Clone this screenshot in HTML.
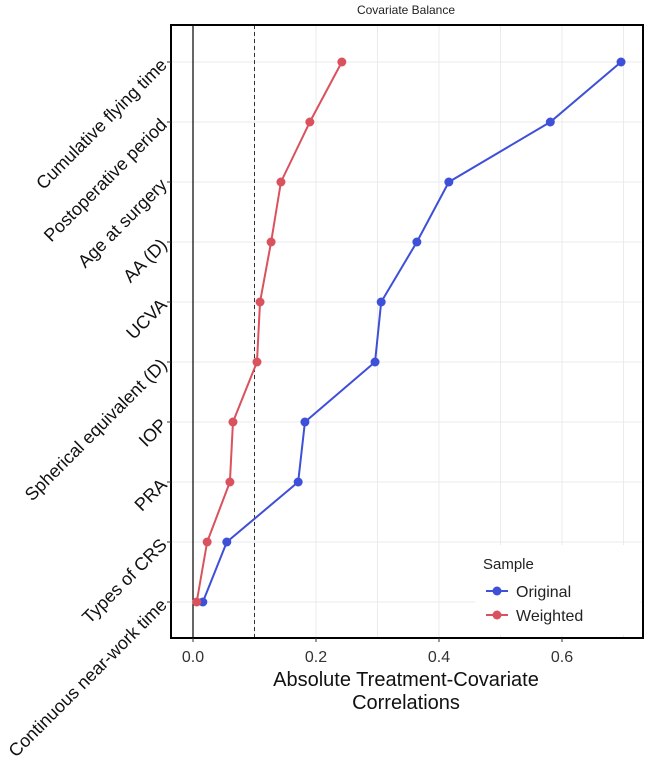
<!DOCTYPE html>
<html><head><meta charset="utf-8"><style>
body{margin:0;background:#fff;}
svg{display:block;font-family:"Liberation Sans",sans-serif;}
</style></head><body>
<svg id="chart" width="646" height="766">
<text x="406" y="14" text-anchor="middle" font-size="12" fill="#222">Covariate Balance</text>
<g id="grid"></g>
<g id="marks"></g>
<g id="axes"></g>
</svg>
<script>
const covariates=["Cumulative flying time","Postoperative period","Age at surgery","AA (D)","UCVA","Spherical equivalent (D)","IOP","PRA","Types of CRS","Continuous near-work time"];
const original=[0.696,0.581,0.416,0.364,0.306,0.296,0.182,0.171,0.055,0.016];
const weighted=[0.242,0.190,0.143,0.127,0.109,0.104,0.065,0.060,0.023,0.006];
const xTicks=[0,0.2,0.4,0.6];
const xTickLabels=["0.0","0.2","0.4","0.6"];
const xMinor=[0.1,0.3,0.5,0.7];
const threshold=0.1;

const NS="http://www.w3.org/2000/svg";
const L=171,R=643,T=25,B=638;
const sx=v=>193+v*615;
const sy=i=>62+i*60;
function mk(parent,tag,attrs){const e=document.createElementNS(NS,tag);for(const k in attrs)e.setAttribute(k,attrs[k]);document.getElementById(parent).appendChild(e);return e;}

xTicks.concat(xMinor).forEach(v=>{const e=mk('grid','line',{x1:sx(v),x2:sx(v),y1:T,y2:B,stroke:'#ebebeb','stroke-width':1});

});
covariates.forEach((c,i)=>{const e=mk('grid','line',{x1:L,x2:R,y1:sy(i),y2:sy(i),stroke:'#ebebeb','stroke-width':1});

});

let e=mk('marks','line',{x1:sx(0),x2:sx(0),y1:T,y2:B,stroke:'#000','stroke-width':1.2});


e=mk('marks','line',{x1:sx(threshold),x2:sx(threshold),y1:T,y2:B,stroke:'#333','stroke-width':1,'stroke-dasharray':'4,3'});



function series(vals,color,name){
  const pts=vals.map((v,i)=>sx(v)+','+sy(i)).join(' ');
  const p=mk('marks','polyline',{points:pts,fill:'none',stroke:color,'stroke-width':2});
  
  
  vals.forEach((v,i)=>{const c=mk('marks','circle',{cx:sx(v),cy:sy(i),r:4.5,fill:color});
  
  });
}
series(original,'#3e4fd8','original');
series(weighted,'#d9525e','weighted');

e=mk('axes','rect',{x:L,y:T,width:R-L,height:B-T,fill:'none',stroke:'#000','stroke-width':2});



xTicks.forEach((v,i)=>{
  const t=mk('axes','line',{x1:sx(v),x2:sx(v),y1:B,y2:B+4,stroke:'#333'});
  
  
  const l=mk('axes','text',{x:sx(v),y:662,'text-anchor':'middle','font-size':16,fill:'#333'});
  l.textContent=xTickLabels[i];
  
  
});
covariates.forEach((c,i)=>{
  const t=mk('axes','line',{x1:L-4,x2:L,y1:sy(i),y2:sy(i),stroke:'#333'});
  
  
  const x=168,y=sy(i)+4;
  const l=mk('axes','text',{x:x,y:y,'text-anchor':'end','font-size':18,fill:'#111',transform:`rotate(-45 ${x} ${y})`});
  l.textContent=c;
  
  
});
let t=mk('axes','text',{x:406,y:686,'text-anchor':'middle','font-size':20,fill:'#111'});
t.textContent='Absolute Treatment-Covariate';


t=mk('axes','text',{x:406,y:709,'text-anchor':'middle','font-size':20,fill:'#111'});
t.textContent='Correlations';



e=mk('axes','rect',{x:475,y:545,width:165,height:90,fill:'#fff'});


t=mk('axes','text',{x:483,y:569,'font-size':15,fill:'#222'});
t.textContent='Sample';


[['Original','#3e4fd8',591],['Weighted','#d9525e',615]].forEach(([n,c,y])=>{
  const g=mk('axes','line',{x1:486,x2:508,y1:y,y2:y,stroke:c,'stroke-width':2});
  
  
  const d=mk('axes','circle',{cx:497,cy:y,r:4.5,fill:c});
  
  
  const l=mk('axes','text',{x:516,y:y+6,'font-size':16,fill:'#222'});
  l.textContent=n;
  
  
});
</script>
</body></html>
